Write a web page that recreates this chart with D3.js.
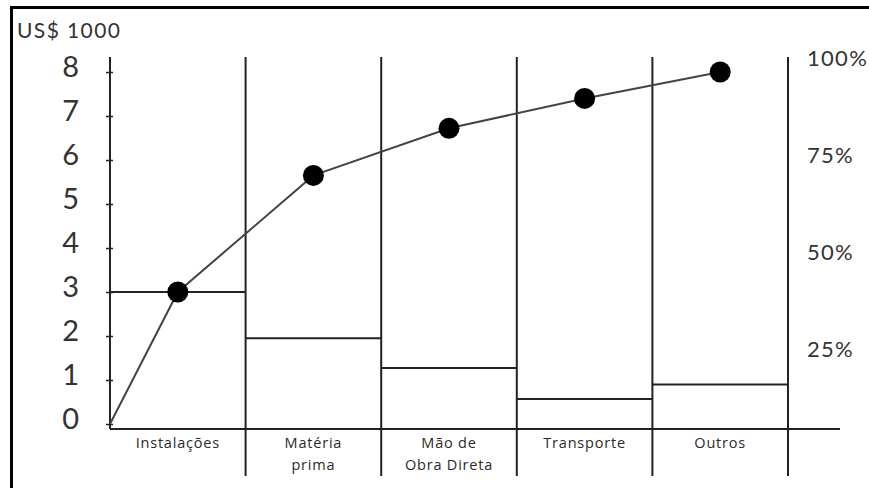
<!DOCTYPE html>
<html>
<head>
<meta charset="utf-8">
<script src="https://cdn.jsdelivr.net/npm/d3@7"></script>
<style>
  html, body { margin: 0; padding: 0; background: #fff; }
  svg { display: block; }
</style>
</head>
<body>
<svg id="chart" width="869" height="488"></svg>
<script>
// ---- data ----
const categories = ["Instalações", "Matéria prima", "Mão de Obra Direta", "Transporte", "Outros"];
const categoryLines = [["Instalações"], ["Matéria", "prima"], ["Mão de", "Obra Direta"], ["Transporte"], ["Outros"]];
const costValues = [3.0, 1.95, 1.27, 0.57, 0.9];          // US$ 1000 per category (bars)
const cumulativeValues = [3.0, 5.65, 6.72, 7.4, 8.0];      // cumulative curve (US$ 1000 scale)
const yTicks = [0, 1, 2, 3, 4, 5, 6, 7, 8];
const pctTicks = [25, 50, 75, 100];
const yTitle = "US$ 1000";

// ---- layout ----
const W = 869, H = 488;
const svg = d3.select("#chart");
const ink = "#222";

const x = d3.scaleBand().domain(categories).range([110, 788]).paddingInner(0).paddingOuter(0);
const y = d3.scaleLinear().domain([0, 8]).range([424, 72]);
const yPct = d3.scaleLinear().domain([0, 100]).range([447, 58]);
const baseY = 429, topY = 57, divBottom = 476;

// frame (top + left)
svg.append("line").attr("x1", 10).attr("x2", W).attr("y1", 7.5).attr("y2", 7.5)
  .attr("stroke", "#000").attr("stroke-width", 3);
svg.append("line").attr("x1", 11.5).attr("x2", 11.5).attr("y1", 6).attr("y2", H)
  .attr("stroke", "#000").attr("stroke-width", 3);

// title
svg.append("text").attr("x", 17).attr("y", 38).text(yTitle)
  .attr("font-family", "Lato, 'Open Sans', sans-serif").attr("font-size", 21)
  .attr("letter-spacing", 1.4).attr("fill", "#333");

// vertical dividers
const dividers = categories.map(c => x(c) + x.bandwidth());
svg.selectAll(".div").data(dividers).enter().append("line")
  .attr("x1", d => d).attr("x2", d => d).attr("y1", topY).attr("y2", divBottom)
  .attr("stroke", ink).attr("stroke-width", 2);

// y axis
const yAxis = d3.axisLeft(y).tickValues(yTicks).tickSize(4).tickPadding(27).tickFormat(d3.format("d"));
const gy = svg.append("g").attr("transform", "translate(110,0)").call(yAxis);
gy.select(".domain").remove();
gy.selectAll(".tick line").attr("x1", 3).attr("x2", -4).attr("stroke", ink).attr("stroke-width", 1.5);
gy.selectAll(".tick text").attr("font-family", "Lato, 'Open Sans', sans-serif").attr("font-size", 29)
  .attr("fill", "#333").attr("dy", "0.14em");
svg.append("line").attr("x1", 110).attr("x2", 110).attr("y1", topY).attr("y2", baseY)
  .attr("stroke", ink).attr("stroke-width", 2);

// x axis line
svg.append("line").attr("x1", 110).attr("x2", 840).attr("y1", baseY).attr("y2", baseY)
  .attr("stroke", ink).attr("stroke-width", 2);

// bars (top edges)
svg.selectAll(".bar").data(categories).enter().append("line")
  .attr("x1", c => x(c)).attr("x2", c => x(c) + x.bandwidth())
  .attr("y1", (c, i) => y(costValues[i])).attr("y2", (c, i) => y(costValues[i]))
  .attr("stroke", ink).attr("stroke-width", 2);

// cumulative line
const pts = [[110, y(0)]].concat(categories.map((c, i) => [x(c) + x.bandwidth() / 2, y(cumulativeValues[i])]));
svg.append("path").attr("d", d3.line()(pts)).attr("fill", "none").attr("stroke", "#444").attr("stroke-width", 2);
svg.selectAll(".dot").data(categories).enter().append("circle")
  .attr("cx", c => x(c) + x.bandwidth() / 2).attr("cy", (c, i) => y(cumulativeValues[i]))
  .attr("r", 10.5).attr("fill", "#000");

// category labels
categories.forEach((c, i) => {
  const t = svg.append("text").attr("x", x(c) + x.bandwidth() / 2).attr("y", 448)
    .attr("text-anchor", "middle").attr("font-family", "'Open Sans', sans-serif")
    .attr("font-size", 14.5).attr("letter-spacing", 0.8).attr("fill", "#2a2a2a");
  categoryLines[i].forEach((ln, k) => {
    t.append("tspan").attr("x", x(c) + x.bandwidth() / 2).attr("dy", k === 0 ? 0 : 22).text(ln);
  });
});

// right percent labels
svg.selectAll(".pct").data(pctTicks).enter().append("text")
  .attr("x", 807).attr("y", d => yPct(d)).attr("dy", "0.35em")
  .attr("font-family", "Lato, 'Open Sans', sans-serif").attr("font-size", 22)
  .attr("letter-spacing", 1.3).attr("fill", "#333")
  .text(d => d + "%");
</script>
</body>
</html>
